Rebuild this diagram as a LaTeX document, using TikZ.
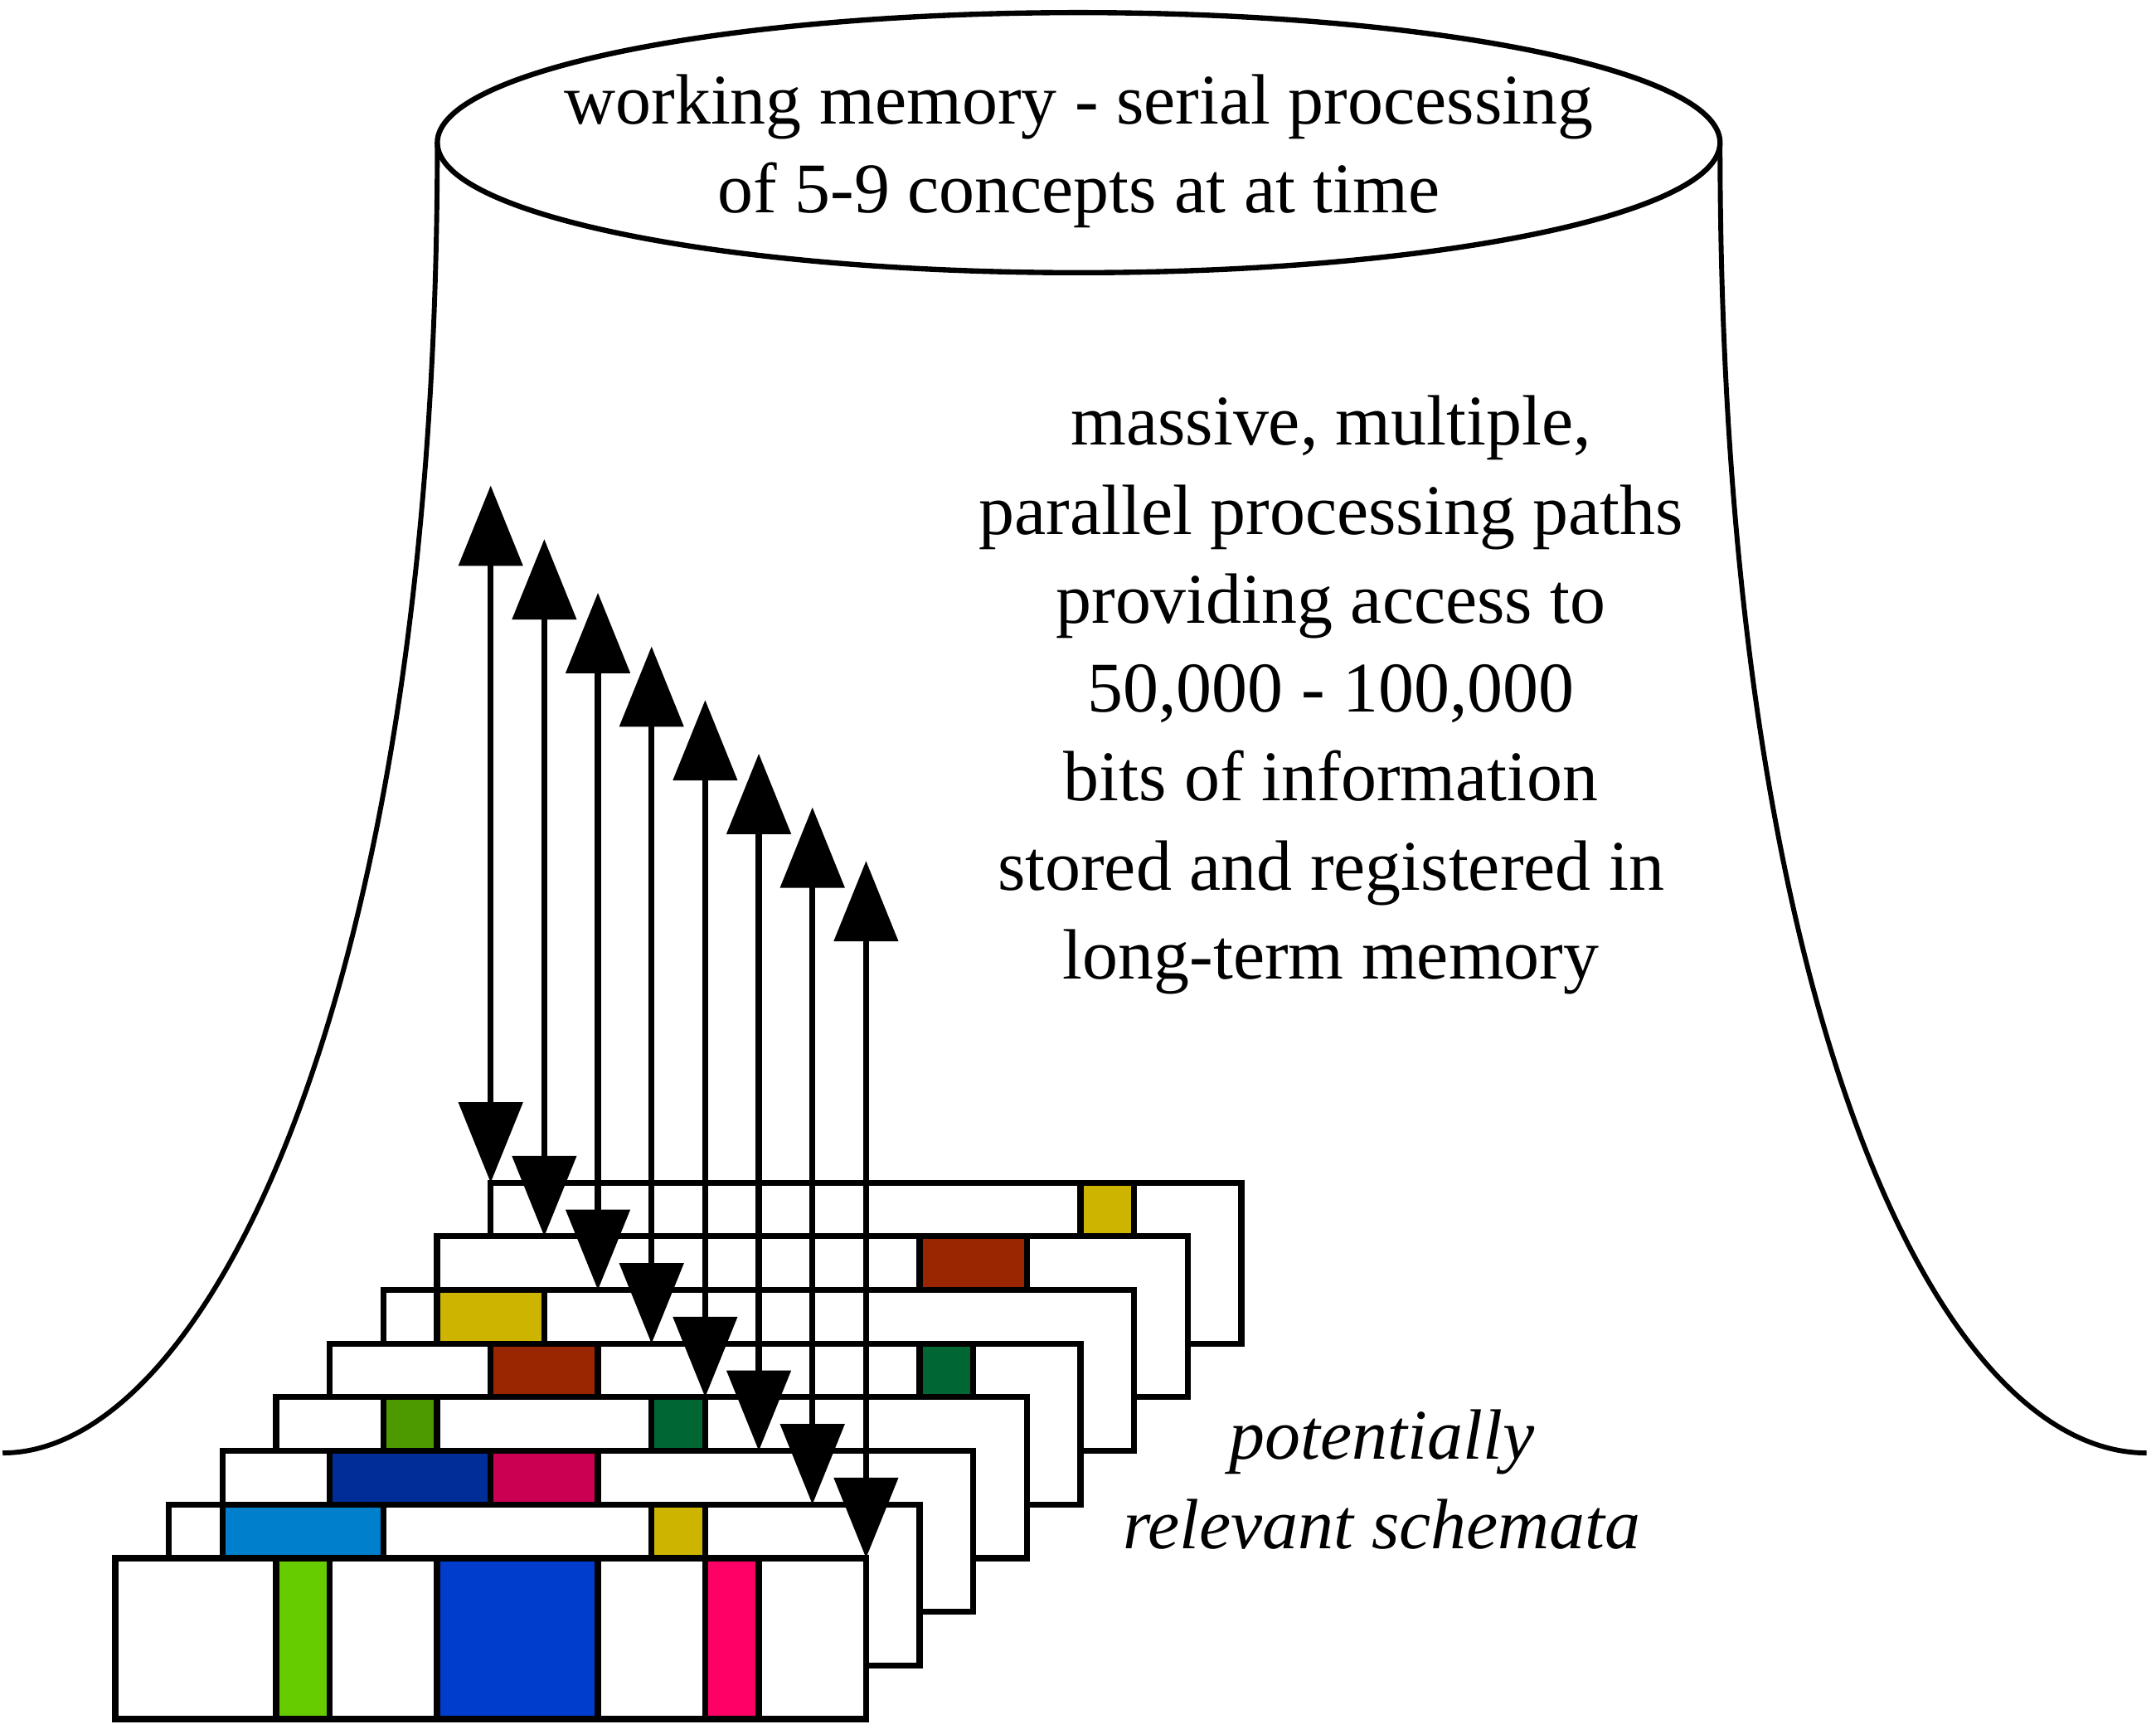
\documentclass[tikz,border=0pt]{standalone}
\usepackage{fontspec}
\setmainfont{Liberation Serif}
\usepackage{tikz}
\usetikzlibrary{arrows.meta,positioning,calc,shapes.geometric}
\definecolor{SchYellow}{RGB}{204,180,0}
\definecolor{SchBrown}{RGB}{153,38,0}
\definecolor{SchDkGreen}{RGB}{0,102,51}
\definecolor{SchGreen}{RGB}{76,153,0}
\definecolor{SchNavy}{RGB}{0,46,153}
\definecolor{SchMagenta}{RGB}{204,0,82}
\definecolor{SchSky}{RGB}{0,128,204}
\definecolor{SchLime}{RGB}{102,204,0}
\definecolor{SchBlue}{RGB}{0,61,204}
\definecolor{SchPink}{RGB}{255,0,102}
\tikzset{
  memcap/.style={ellipse, draw, line width=2.8pt, inner sep=0pt, outer sep=0pt,
                minimum width=23.92cm, minimum height=4.85cm},
  trunk/.style={line width=2.6pt},
  schema/.style={draw, fill=white, line width=3.2pt, inner sep=0pt, outer sep=0pt,
                anchor=south west, minimum width=14cm, minimum height=3cm},
  slot/.style={draw, line width=3.2pt},
  % one double-headed access path per schema
  access/.style={{Triangle[length=1.5cm,width=1.18cm]}-{Triangle[length=1.5cm,width=1.18cm]},
                line width=3.2pt},
  % multi-line text, anchored on the baseline of its last line
  bigtext/.style={font=\fontsize{37.8}{47.2}\selectfont, align=center, anchor=base, inner sep=0pt},
}

\begin{document}
\begin{tikzpicture}

  \useasboundingbox (0,0) rectangle (40.205,32.334);
  \fill[white] (0,0) rectangle (40.205,32.334);

  % --- Working memory cap and the flared trunk --------------------------------
  \node[memcap] (wm) at (20.115, 29.674) {};
  \node[bigtext] (wmtext) at (20.115, 28.36) {working memory - serial processing\\of 5-9 concepts at at time};

  \coordinate (lbase) at (0.05, 5.24);
  \coordinate (rbase) at (40.03, 5.24);
  \draw[trunk] (wm.west) .. controls +(0,-15.9) and +(3.79,0) .. (lbase);
  \draw[trunk] (wm.east) .. controls +(0,-15.9) and +(-3.97,0) .. (rbase);

  \node[bigtext] (paths) at (24.82, 14.08) {massive, multiple,\\parallel processing paths\\providing access to\\50,000 - 100,000\\bits of information\\stored and registered in\\long-term memory};

  % --- Stack of schemata, back to front ---------------------------------------
  \foreach \i/\cells in {7/{11/12/SchYellow},
                         6/{9/11/SchBrown},
                         5/{1/3/SchYellow},
                         4/{3/5/SchBrown,11/12/SchDkGreen},
                         3/{2/3/SchGreen,7/8/SchDkGreen},
                         2/{2/5/SchNavy,5/7/SchMagenta},
                         1/{1/4/SchSky,9/10/SchYellow},
                         0/{3/4/SchLime,6/9/SchBlue,11/12/SchPink}}{
    \node[schema] (box\i) at (2.15+\i, 0.28+\i) {};
    \foreach \s/\e/\c in \cells
      \draw[slot, fill=\c] ($(box\i.south west)+(\s,0)$) rectangle ($(box\i.south west)+(\e,3)$);
  }

  \node[bigtext, font=\fontsize{37.8}{47.2}\selectfont\itshape] (schemata) at (25.77, 3.46) {potentially\\relevant schemata};

  % --- Parallel access paths --------------------------------------------------
  \foreach \k in {0,...,7}{
    \pgfmathtruncatemacro{\j}{7-\k}
    \coordinate (foot\k) at ($(box\j.north west)+(2*\k,0)$);
    \coordinate (head\k) at ($(foot\k)+(0,13)$);
    \draw[access] (head\k) -- (foot\k);
  }

\end{tikzpicture}
\end{document}
